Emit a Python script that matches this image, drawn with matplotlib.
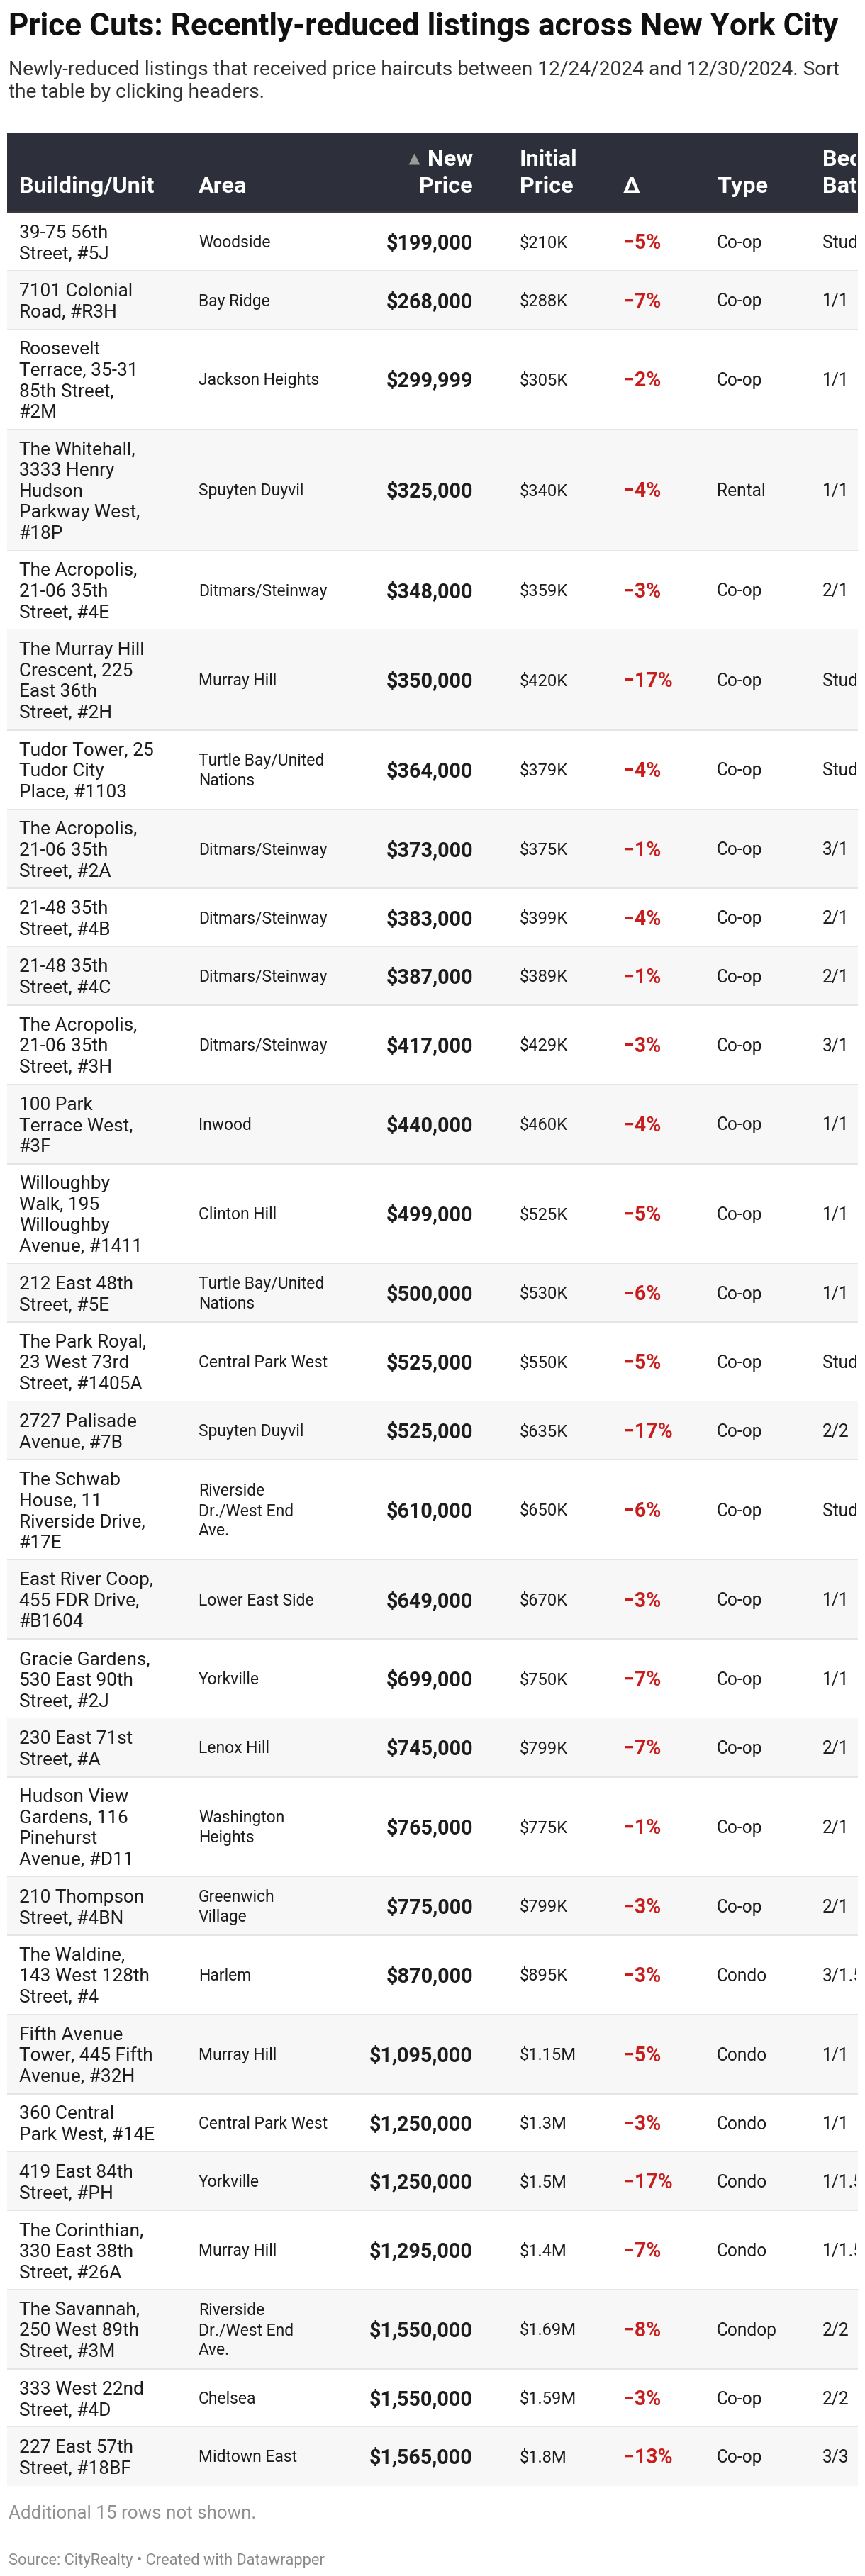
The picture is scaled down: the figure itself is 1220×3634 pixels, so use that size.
#!/usr/bin/env python3
"""Price Cuts table (Datawrapper style) redrawn with matplotlib -> out.png"""

import matplotlib
matplotlib.use("Agg")
import matplotlib.pyplot as plt
from matplotlib.patches import Rectangle
from matplotlib.textpath import TextPath
from matplotlib.font_manager import FontProperties
from matplotlib.transforms import Bbox

W, H = 1220, 3634
DPI = 100
PT = 72 / DPI  # points per pixel

TITLE = "Price Cuts: Recently-reduced listings across New York City"
SUBTITLE = ["Newly-reduced listings that received price haircuts between 12/24/2024 and 12/30/2024. Sort",
            "the table by clicking headers."]
NOTE = "Additional 15 rows not shown."
SOURCE = "Source: CityRealty \u2022 Created with Datawrapper"

headers = ["Building/Unit", "Area", "New\nPrice", "Initial\nPrice", "\u0394", "Type", "Bed/\nBath"]

buildings = [
    "39-75 56th\nStreet, #5J",
    "7101 Colonial\nRoad, #R3H",
    "Roosevelt\nTerrace, 35-31\n85th Street,\n#2M",
    "The Whitehall,\n3333 Henry\nHudson\nParkway West,\n#18P",
    "The Acropolis,\n21-06 35th\nStreet, #4E",
    "The Murray Hill\nCrescent, 225\nEast 36th\nStreet, #2H",
    "Tudor Tower, 25\nTudor City\nPlace, #1103",
    "The Acropolis,\n21-06 35th\nStreet, #2A",
    "21-48 35th\nStreet, #4B",
    "21-48 35th\nStreet, #4C",
    "The Acropolis,\n21-06 35th\nStreet, #3H",
    "100 Park\nTerrace West,\n#3F",
    "Willoughby\nWalk, 195\nWilloughby\nAvenue, #1411",
    "212 East 48th\nStreet, #5E",
    "The Park Royal,\n23 West 73rd\nStreet, #1405A",
    "2727 Palisade\nAvenue, #7B",
    "The Schwab\nHouse, 11\nRiverside Drive,\n#17E",
    "East River Coop,\n455 FDR Drive,\n#B1604",
    "Gracie Gardens,\n530 East 90th\nStreet, #2J",
    "230 East 71st\nStreet, #A",
    "Hudson View\nGardens, 116\nPinehurst\nAvenue, #D11",
    "210 Thompson\nStreet, #4BN",
    "The Waldine,\n143 West 128th\nStreet, #4",
    "Fifth Avenue\nTower, 445 Fifth\nAvenue, #32H",
    "360 Central\nPark West, #14E",
    "419 East 84th\nStreet, #PH",
    "The Corinthian,\n330 East 38th\nStreet, #26A",
    "The Savannah,\n250 West 89th\nStreet, #3M",
    "333 West 22nd\nStreet, #4D",
    "227 East 57th\nStreet, #18BF",
]

areas = [
    "Woodside", "Bay Ridge", "Jackson Heights", "Spuyten Duyvil", "Ditmars/Steinway",
    "Murray Hill", "Turtle Bay/United\nNations", "Ditmars/Steinway", "Ditmars/Steinway",
    "Ditmars/Steinway", "Ditmars/Steinway", "Inwood", "Clinton Hill",
    "Turtle Bay/United\nNations", "Central Park West", "Spuyten Duyvil",
    "Riverside\nDr./West End\nAve.", "Lower East Side", "Yorkville", "Lenox Hill",
    "Washington\nHeights", "Greenwich\nVillage", "Harlem", "Murray Hill",
    "Central Park West", "Yorkville", "Murray Hill", "Riverside\nDr./West End\nAve.",
    "Chelsea", "Midtown East",
]

new_prices = [199000, 268000, 299999, 325000, 348000, 350000, 364000, 373000, 383000,
              387000, 417000, 440000, 499000, 500000, 525000, 525000, 610000, 649000,
              699000, 745000, 765000, 775000, 870000, 1095000, 1250000, 1250000,
              1295000, 1550000, 1550000, 1565000]

initial_prices = [210000, 288000, 305000, 340000, 359000, 420000, 379000, 375000, 399000,
                  389000, 429000, 460000, 525000, 530000, 550000, 635000, 650000, 670000,
                  750000, 799000, 775000, 799000, 895000, 1150000, 1300000, 1500000,
                  1400000, 1690000, 1590000, 1800000]

deltas = [-5, -7, -2, -4, -3, -17, -4, -1, -4, -1, -3, -4, -5, -6, -5, -17, -6, -3,
          -7, -7, -1, -3, -3, -5, -3, -17, -7, -8, -3, -13]

types = ["Co-op", "Co-op", "Co-op", "Rental", "Co-op", "Co-op", "Co-op", "Co-op", "Co-op",
         "Co-op", "Co-op", "Co-op", "Co-op", "Co-op", "Co-op", "Co-op", "Co-op", "Co-op",
         "Co-op", "Co-op", "Co-op", "Co-op", "Condo", "Condo", "Condo", "Condo", "Condo",
         "Condop", "Co-op", "Co-op"]

bed_bath = ["Studio", "1/1", "1/1", "1/1", "2/1", "Studio", "Studio", "3/1", "2/1", "2/1",
            "3/1", "1/1", "1/1", "1/1", "Studio", "2/2", "Studio", "1/1", "1/1", "2/1",
            "2/1", "2/1", "3/1.5", "1/1", "1/1", "1/1.5", "1/1.5", "2/2", "2/2", "3/3"]

FAM = ["Roboto", "DejaVu Sans"]
INK = "#1d1d1d"
RED = "#c71e1d"
CAP = 0.711  # Roboto cap height / em


def ink_width(s, weight="normal"):
    fp = FontProperties(family="Roboto", weight=weight)
    return TextPath((0, 0), s, size=100, prop=fp).get_extents().width


def fit_px(sample, target, weight="normal"):
    # font size in px so that the sample string has the measured ink width
    return 100 * target / ink_width(sample, weight)


def fmt_price(v):
    return f"${v:,.0f}"


def fmt_initial(v):
    if v >= 1_000_000:
        return "$" + f"{v / 1e6:.2f}".rstrip("0").rstrip(".") + "M"
    return f"${v / 1000:.0f}K"


def fmt_delta(d):
    return f"\u2212{abs(d)}%"


def main():
    fig = plt.figure(figsize=(W / DPI, H / DPI), dpi=DPI)
    ax = fig.add_axes([0, 0, 1, 1])
    ax.set_xlim(0, W)
    ax.set_ylim(H, 0)
    ax.axis("off")

    TL, TR = 10, 1210  # table left/right
    # Agg clips text only to rectangles; figure pixels == data x here
    clip = Bbox.from_extents(TL, 0, 1207, H)

    s_title = fit_px(TITLE, 1167, "bold")
    s_sub = fit_px(SUBTITLE[0], 1170)
    s_head = fit_px("Building/Unit", 188, "bold")
    s_bld = fit_px("39-75 56th", 122.7)
    s_area = fit_px("Woodside", 100)
    s_new = fit_px("$199,000", 120, "bold")
    s_init = fit_px("$210K", 67)
    s_delta = fit_px("\u22125%", 50, "bold")
    s_type = fit_px("Co-op", 62)
    s_note = fit_px(NOTE, 346.7)
    s_src = fit_px(SOURCE, 445)

    # title and subtitle
    ax.text(12, 50, TITLE, fontsize=s_title * PT, fontweight="bold", family=FAM,
            color="#111111", va="baseline")
    for i, line in enumerate(SUBTITLE):
        ax.text(12, 106 + i * 32, line, fontsize=s_sub * PT, family=FAM,
                color="#333333", va="baseline")

    # header band
    ax.add_patch(Rectangle((TL, 188), TR - TL, 110, color="#2d303b", lw=0))
    ax.add_patch(Rectangle((TL, 297.5), TR - TL, 2.5, color="#3b3b3b", lw=0))

    # column specs: x, ha, size px, weight, line step
    cols = [
        (27, "left", s_bld, "normal", 29.5),
        (280, "left", s_area, "normal", 28.0),
        (667, "right", s_new, "bold", 30.0),
        (733, "left", s_init, "normal", 28.0),
        (879, "left", s_delta, "bold", 30.0),
        (1011, "left", s_type, "normal", 29.5),
        (1160, "left", s_type, "normal", 29.5),
    ]

    for (x, ha, _, _, _), label in zip(cols, headers):
        lines = label.split("\n")
        for j, ln in enumerate(lines):
            y = 272 - (len(lines) - 1 - j) * 38.5
            t = ax.text(x, y, ln, ha=ha, va="baseline", fontsize=s_head * PT,
                        fontweight="bold", family=FAM, color="white")
            t.set_clip_box(clip)
            t.set_clip_on(True)
    # sort indicator in front of "New"
    ax.plot([584], [224], marker="^", ms=11.5, color="#9a9a9a", mec="none")

    def block(x, center, text, size, step, ha, weight, color):
        lines = text.split("\n")
        n = len(lines)
        cap = CAP * size
        top = center - ((n - 1) * step + cap) / 2
        for i, ln in enumerate(lines):
            t = ax.text(x, top + cap + i * step, ln, ha=ha, va="baseline",
                        fontsize=size * PT, fontweight=weight, family=FAM, color=color)
            t.set_clip_box(clip)
            t.set_clip_on(True)

    y = 300.0
    pad = 23.3
    nrows = len(buildings)
    for r in range(nrows):
        nb = buildings[r].count("\n") + 1
        na = areas[r].count("\n") + 1
        h = max(nb * 29.5, na * 28.0) + pad
        if r % 2 == 1:
            ax.add_patch(Rectangle((TL, y), TR - TL, h, color="#f7f7f7", lw=0))
        if r < nrows - 1:
            ax.add_patch(Rectangle((TL, y + h - 1), TR - TL, 2, color="#e5e5e5", lw=0))
        c = y + h / 2
        cells = [buildings[r], areas[r], fmt_price(new_prices[r]),
                 fmt_initial(initial_prices[r]), fmt_delta(deltas[r]), types[r], bed_bath[r]]
        for k, ((x, ha, size, weight, step), txt) in enumerate(zip(cols, cells)):
            color = RED if k == 4 else INK
            block(x, c, txt, size, step, ha, weight, color)
        y += h

    ax.text(12, 3553, NOTE, fontsize=s_note * PT, family=FAM, color="#909090", va="baseline")
    ax.text(12, 3618, SOURCE, fontsize=s_src * PT, family=FAM, color="#8a8a8a", va="baseline")

    fig.savefig("out.png", dpi=DPI, facecolor="white")


if __name__ == "__main__":
    main()
